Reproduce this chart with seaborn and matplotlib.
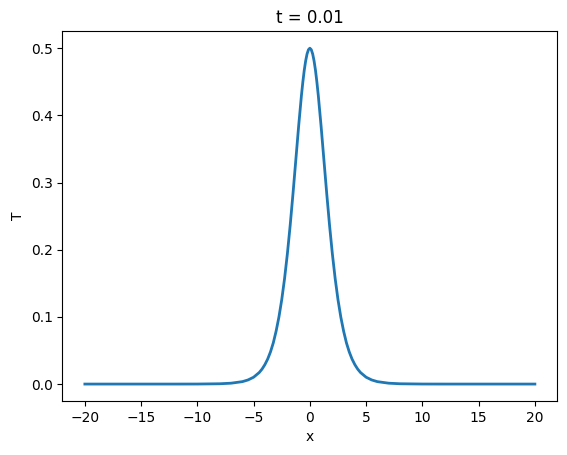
import matplotlib
matplotlib.use("Agg")
import matplotlib.pyplot as plt
import seaborn as sns
import pandas as pd

# Temperature profile at t = 0.01
x_vals = [-20, -15, -12, -10, -8, -7, -6, -5.5, -5, -4.5, -4.25, -4, -3.75, -3.5, -3.25, -3, -2.75, -2.5, -2.25,
          -2, -1.75, -1.5, -1.25, -1, -0.75, -0.625, -0.5, -0.375, -0.25, -0.125, 0,
          0.125, 0.25, 0.375, 0.5, 0.625, 0.75, 1, 1.25, 1.5, 1.75, 2, 2.25, 2.5, 2.75, 3,
          3.25, 3.5, 3.75, 4, 4.25, 4.5, 5, 5.5, 6, 7, 8, 10, 12, 15, 20]
t_vals = [0.0, 0.0, 0.0, 0.00005, 0.00045, 0.0013, 0.0036, 0.0061, 0.0102, 0.0172, 0.0223, 0.0289, 0.0372, 0.0479, 0.0614, 0.0788, 0.0998, 0.1256, 0.1569,
          0.1938, 0.2363, 0.2834, 0.3333, 0.3835, 0.4295, 0.4495, 0.467, 0.481, 0.4914, 0.4978, 0.5,
          0.4978, 0.4914, 0.481, 0.467, 0.4495, 0.4295, 0.3835, 0.3333, 0.2834, 0.2363, 0.1938, 0.1569, 0.1256, 0.0998, 0.0788,
          0.0614, 0.0479, 0.0372, 0.0289, 0.0223, 0.0172, 0.0102, 0.0061, 0.0036, 0.0013, 0.00045, 0.00005, 0.0, 0.0, 0.0]

df = pd.DataFrame({"x": x_vals, "T": t_vals})

fig = plt.figure(figsize=(5.67, 4.55), dpi=100)
ax = fig.add_axes([0.110, 0.119, 0.873, 0.812])
sns.lineplot(data=df, x="x", y="T", color="#1f77b4", linewidth=2, ax=ax)
ax.set_title("t = 0.01")
ax.set_xlabel("x")
ax.set_ylabel("T")
ax.set_xticks([-20, -15, -10, -5, 0, 5, 10, 15, 20])
ax.set_yticks([0.0, 0.1, 0.2, 0.3, 0.4, 0.5])

fig.savefig("out.png", dpi=100)
